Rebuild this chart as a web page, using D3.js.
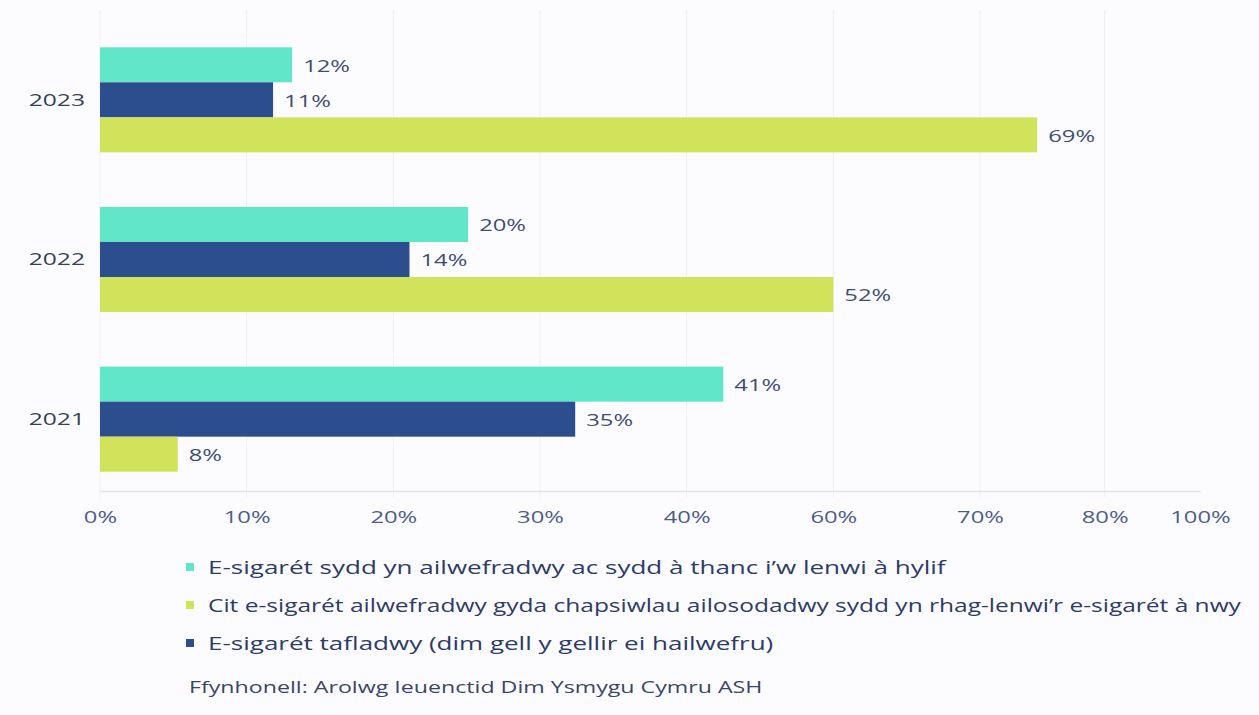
<!DOCTYPE html>
<html>
<head>
<meta charset="utf-8">
<script src="https://cdn.jsdelivr.net/npm/d3@7"></script>
<style>
  body { margin: 0; background: #fcfcfe; }
  svg { display: block; font-family: "Open Sans", sans-serif; }
</style>
</head>
<body>
<div id="chart"></div>
<script>
// categories (top to bottom)
var years = ["2023", "2022", "2021"];

// bar lengths as read against the axis grid (axis units)
var tankRefillable = [13.1, 25.1, 42.5];
var disposable = [11.8, 21.1, 32.4];
var podKit = [63.9, 50.0, 5.3];

// value labels printed next to the bars
var tankLabels = ["12%", "20%", "41%"];
var disposableLabels = ["11%", "14%", "35%"];
var podLabels = ["69%", "52%", "8%"];

// axis ticks: where they sit on the grid, and what they say
var tickPositions = [0, 10, 20, 30, 40, 50, 60, 68.5, 75];
var tickLabels = ["0%", "10%", "20%", "30%", "40%", "60%", "70%", "80%", "100%"];

var seriesNames = [
    "E-sigarét sydd yn ailwefradwy ac sydd à thanc i’w lenwi à hylif",
    "Cit e-sigarét ailwefradwy gyda chapsiwlau ailosodadwy sydd yn rhag-lenwi’r e-sigarét à nwy",
    "E-sigarét tafladwy (dim gell y gellir ei hailwefru)"
];
var sourceText = "Ffynhonell: Arolwg Ieuenctid Dim Ysmygu Cymru ASH";

var W = 1259, H = 715;
// the original screenshot is stretched sideways, so text is widened too
var stretch = 1.4;
var legendStretch = [1.37, 1.29, 1.37];

var svg = d3.select("#chart")
    .append("svg")
    .attr("width", W)
    .attr("height", H);

// series in drawing order inside each group
var series = [
    {key: "tank", values: tankRefillable, labels: tankLabels, color: "#60e5c9"},
    {key: "disp", values: disposable, labels: disposableLabels, color: "#2d4e8e"},
    {key: "pod", values: podKit, labels: podLabels, color: "#d0e35a"}
];

var x = d3.scaleLinear()
    .domain([0, 75])
    .range([100, 1200]);

var y = d3.scaleBand()
    .domain(years)
    .range([20, 499])
    .paddingInner(0.342)
    .paddingOuter(0.171);

var ySub = d3.scaleBand()
    .domain(series.map(d => d.key))
    .range([0, y.bandwidth()]);

var axisY = 491;

// helper: text placed at (px, py) and widened
function wideText(sel, px, py, sx) {
    return sel.attr("transform", "translate(" + px + "," + py + ") scale(" + sx + ",1)");
}

// grid lines
svg.append("g")
    .selectAll("line")
    .data(tickPositions.slice(0, 8))
    .enter()
    .append("line")
    .attr("x1", d => x(d))
    .attr("x2", d => x(d))
    .attr("y1", 10)
    .attr("y2", axisY + 6)
    .attr("stroke", "#efeff3")
    .attr("stroke-width", 1);

// bars
var groups = svg.selectAll(".year")
    .data(years)
    .enter()
    .append("g")
    .attr("class", "year")
    .attr("transform", d => "translate(0," + y(d) + ")");

groups.each(function (yr, i) {
    var g = d3.select(this);
    series.forEach(function (s) {
        g.append("rect")
            .attr("x", x(0))
            .attr("y", ySub(s.key))
            .attr("width", x(s.values[i]) - x(0))
            .attr("height", ySub.bandwidth())
            .attr("fill", s.color);
        g.append("text")
            .call(wideText, x(s.values[i]) + 11, ySub(s.key) + ySub.bandwidth() / 2 + 1, stretch)
            .attr("dy", "0.35em")
            .attr("fill", "#3e4d74")
            .style("font-size", "17px")
            .text(s.labels[i]);
    });
});

// year labels
svg.append("g")
    .selectAll("text")
    .data(years)
    .enter()
    .append("text")
    .each(function (d) {
        d3.select(this).call(wideText, 85, y(d) + y.bandwidth() / 2, 1.45);
    })
    .attr("dy", "0.35em")
    .attr("text-anchor", "end")
    .attr("fill", "#353f58")
    .style("font-size", "17px")
    .text(d => d);

// x axis
var xAxis = svg.append("g")
    .attr("transform", "translate(0," + axisY + ")")
    .call(d3.axisBottom(x)
        .tickValues(tickPositions)
        .tickSize(0)
        .tickPadding(20)
        .tickFormat((d, i) => tickLabels[i]));
xAxis.select(".domain").attr("stroke", "#e2e2e8").attr("stroke-width", 1.5);
xAxis.selectAll("text")
    .attr("transform", "scale(" + stretch + ",1)")
    .attr("fill", "#4c5d8a")
    .style("font-size", "17px")
    .style("font-family", "'Open Sans', sans-serif");

// legend
var legendOrder = [0, 2, 1];
var legend = svg.append("g");
legendOrder.forEach(function (si, row) {
    var ly = 567 + row * 38;
    legend.append("rect")
        .attr("x", 186)
        .attr("y", ly - 4)
        .attr("width", 8)
        .attr("height", 8)
        .attr("fill", series[si].color);
    legend.append("text")
        .call(wideText, 208, ly, legendStretch[row])
        .attr("dy", "0.35em")
        .attr("fill", "#2d3b66")
        .style("font-size", "19px")
        .text(seriesNames[row]);
});

svg.append("text")
    .call(wideText, 189, 687, 1.45)
    .attr("dy", "0.35em")
    .attr("fill", "#3a4668")
    .style("font-size", "16px")
    .text(sourceText);
</script>
</body>
</html>
